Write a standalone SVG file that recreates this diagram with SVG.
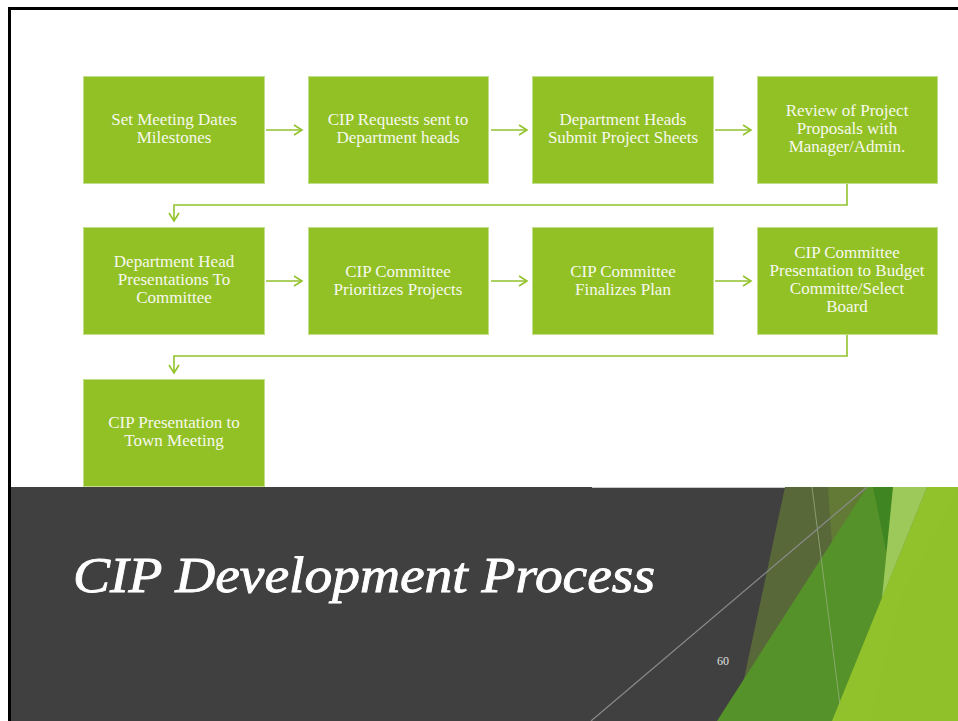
<svg xmlns="http://www.w3.org/2000/svg" width="958" height="721" viewBox="0 0 958 721">
  <style>
    .box { fill: #92c125; stroke: #c3de8a; stroke-width: 1; }
    .lbl { font-family: "Liberation Serif", "Times New Roman", serif; font-size: 17px; fill: #f6f8ee; text-anchor: middle; }
    .conn { fill: none; stroke: #92c22b; stroke-width: 1.6; }
    .head { fill: none; stroke: #92c22b; stroke-width: 1.6; stroke-linejoin: miter; }
  </style>

  <!-- slide background -->
  <rect x="0" y="0" width="958" height="721" fill="#ffffff"/>

  <!-- dark title band -->
  <rect x="10" y="487" width="948" height="234" fill="#404040"/>
  <line x1="592" y1="487.5" x2="870" y2="487.5" stroke="#c9c9c9" stroke-width="1"/>

  <!-- green facets on the right of the band -->
  <g id="facets">
    <polygon points="785,487 870,487 840,721 735,721" fill="#586839"/>
    <polygon points="828,487 870,487 845,600 836,600" fill="#627a35"/>
    <polygon points="867,487 932,487 842,721 717,721" fill="#56922a"/>
    <polygon points="927,487 958,487 958,721 832,721" fill="#92c22b"/>
    <polygon points="900,600 958,487 958,721 870,721" fill="#8fbf29" opacity="0.5"/>
    <polygon points="873,487 893,487 888,560" fill="#3f8521"/>
    <polygon points="893,487 927,487 882,598" fill="#9dc85a"/>
    <line x1="812" y1="487" x2="840" y2="705" stroke="#9fb48a" stroke-width="1" opacity="0.7"/>
    <line x1="867" y1="487" x2="591" y2="721" stroke="#8c8c8c" stroke-width="1.2"/>
  </g>

  <!-- black frame at top and left -->
  <path d="M9.5,721 V8.5 H958" fill="none" stroke="#000000" stroke-width="3"/>

  <!-- title and page number -->
  <text x="73" y="592" font-family="'Palatino Linotype', 'Book Antiqua', 'Liberation Serif', serif" font-style="italic" font-size="51" fill="#ffffff" stroke="#ffffff" stroke-width="0.9" textLength="582" lengthAdjust="spacingAndGlyphs">CIP Development Process</text>
  <text x="723" y="665" font-family="'Liberation Serif', serif" font-size="12" fill="#e0e0e0" text-anchor="middle">60</text>

  <!-- connectors -->
  <g id="connectors">
    <line class="conn" x1="266" y1="130" x2="302" y2="130"/>
    <path class="head" d="M294,125 L302,130 L294,135"/>
    <line class="conn" x1="491" y1="130" x2="527" y2="130"/>
    <path class="head" d="M519,125 L527,130 L519,135"/>
    <line class="conn" x1="715" y1="130" x2="751" y2="130"/>
    <path class="head" d="M743,125 L751,130 L743,135"/>

    <path class="conn" d="M847,184 V205 H174 V221"/>
    <path class="head" d="M169,213 L174,221 L179,213"/>

    <line class="conn" x1="266" y1="281" x2="302" y2="281"/>
    <path class="head" d="M294,276 L302,281 L294,286"/>
    <line class="conn" x1="491" y1="281" x2="527" y2="281"/>
    <path class="head" d="M519,276 L527,281 L519,286"/>
    <line class="conn" x1="715" y1="281" x2="751" y2="281"/>
    <path class="head" d="M743,276 L751,281 L743,286"/>

    <path class="conn" d="M847,335 V356 H174 V373"/>
    <path class="head" d="M169,365 L174,373 L179,365"/>
  </g>

  <!-- process steps -->
  <g id="step1">
    <rect class="box" x="83.5" y="76.5" width="181" height="107"/>
    <text class="lbl" x="174" y="125">Set Meeting Dates</text>
    <text class="lbl" x="174" y="143">Milestones</text>
  </g>
  <g id="step2">
    <rect class="box" x="308.5" y="76.5" width="180" height="107"/>
    <text class="lbl" x="398" y="125">CIP Requests sent to</text>
    <text class="lbl" x="398" y="143">Department heads</text>
  </g>
  <g id="step3">
    <rect class="box" x="532.5" y="76.5" width="181" height="107"/>
    <text class="lbl" x="623" y="125">Department Heads</text>
    <text class="lbl" x="623" y="143">Submit Project Sheets</text>
  </g>
  <g id="step4">
    <rect class="box" x="757.5" y="76.5" width="180" height="107"/>
    <text class="lbl" x="847" y="116">Review of Project</text>
    <text class="lbl" x="847" y="134">Proposals with</text>
    <text class="lbl" x="847" y="152">Manager/Admin.</text>
  </g>

  <g id="step5">
    <rect class="box" x="83.5" y="227.5" width="181" height="107"/>
    <text class="lbl" x="174" y="267">Department Head</text>
    <text class="lbl" x="174" y="285">Presentations To</text>
    <text class="lbl" x="174" y="303">Committee</text>
  </g>
  <g id="step6">
    <rect class="box" x="308.5" y="227.5" width="180" height="107"/>
    <text class="lbl" x="398" y="277">CIP Committee</text>
    <text class="lbl" x="398" y="295">Prioritizes Projects</text>
  </g>
  <g id="step7">
    <rect class="box" x="532.5" y="227.5" width="181" height="107"/>
    <text class="lbl" x="623" y="277">CIP Committee</text>
    <text class="lbl" x="623" y="295">Finalizes Plan</text>
  </g>
  <g id="step8">
    <rect class="box" x="757.5" y="227.5" width="180" height="107"/>
    <text class="lbl" x="847" y="258">CIP Committee</text>
    <text class="lbl" x="847" y="276">Presentation to Budget</text>
    <text class="lbl" x="847" y="294">Committe/Select</text>
    <text class="lbl" x="847" y="312">Board</text>
  </g>

  <g id="step9">
    <rect class="box" x="83.5" y="379.5" width="181" height="107"/>
    <text class="lbl" x="174" y="428">CIP Presentation to</text>
    <text class="lbl" x="174" y="446">Town Meeting</text>
  </g>
</svg>
